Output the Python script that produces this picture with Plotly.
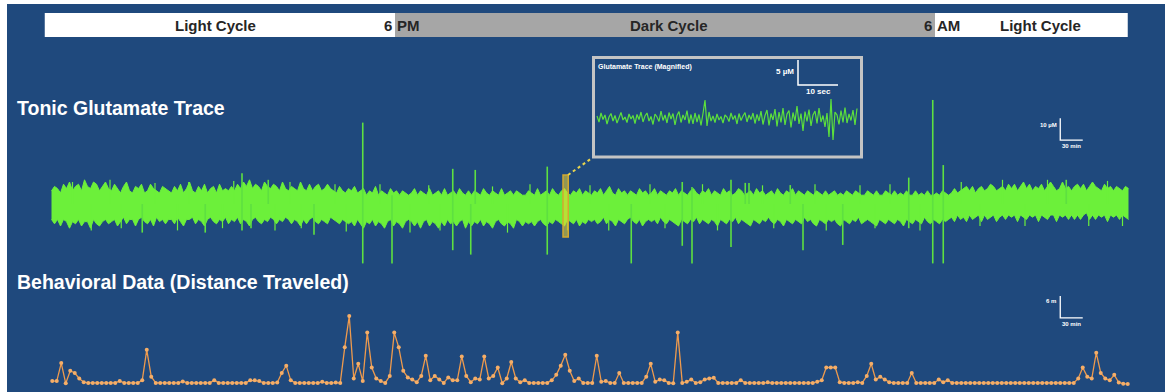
import numpy as np
import pandas as pd
import plotly.graph_objects as go

# ---------------- data ----------------
RECORD_START = "2020-01-01 10:20"
BAR_START = "2020-01-01 10:13"
LIGHTS_OFF = "2020-01-01 18:00"
LIGHTS_ON = "2020-01-02 06:00"
BAR_END = "2020-01-02 10:17"
CYCLE_LABELS = ["Light Cycle", "Dark Cycle", "Light Cycle"]
CYCLE_LABEL_TIMES = ["2020-01-01 14:00", "2020-01-02 00:05", "2020-01-02 08:20"]

# tonic glutamate (µM, relative to baseline): envelope of the trace every 4 min
GLU_STEP_MIN = 4
GLU_UPPER = [
    6, 8, 7, 5, 9, 7, 10, 6, 8, 9, 6, 11, 8, 7, 10, 9, 6, 8, 10, 7,
    6, 9, 7, 5, 8, 10, 6, 5, 8, 7, 9, 5, 6, 9, 7, 6, 5, 8, 7, 6,
    5, 8, 6, 9, 5, 7, 10, 6, 5, 8, 6, 9, 5, 7, 8, 5, 9, 6, 7, 6,
    8, 6, 9, 7, 10, 8, 11, 7, 9, 8, 6, 10, 8, 7, 9, 8, 6, 10, 7, 6,
    8, 7, 6, 10, 7, 6, 9, 6, 8, 9, 6, 7, 9, 7, 6, 5, 8, 6, 5, 7,
    6, 8, 5, 6, 7, 4, 6, 5, 8, 4, 6, 5, 4, 7, 5, 6, 4, 6, 5, 4,
    5, 7, 4, 6, 5, 4, 7, 4, 5, 6, 4, 7, 4, 5, 6, 4, 7, 5, 4, 6,
    4, 6, 5, 4, 7, 5, 4, 6, 5, 4, 7, 4, 5, 6, 4, 6, 5, 4, 4, 6,
    5, 4, 7, 4, 5, 6, 4, 7, 5, 4, 6, 7, 5, 4, 6, 5, 7, 4, 6, 5,
    4, 6, 5, 7, 4, 6, 8, 5, 4, 7, 5, 6, 4, 6, 5, 4, 7, 5, 6, 4,
    5, 7, 4, 6, 5, 4, 6, 5, 7, 4, 6, 5, 4, 6, 7, 5, 4, 6, 5, 7,
    4, 6, 5, 4, 7, 5, 6, 4, 5, 7, 6, 4, 5, 6, 4, 7, 5, 6, 4, 5,
    6, 4, 7, 5, 4, 6, 5, 7, 4, 6, 5, 4, 6, 5, 4, 6, 5, 4, 6, 4,
    5, 6, 4, 5, 4, 6, 5, 4, 6, 5, 4, 4, 6, 5, 4, 6, 4, 4, 6, 5,
    4, 6, 4, 5, 4, 6, 4, 4, 6, 4, 5, 4, 6, 4, 4, 5, 4, 6, 5, 4,
    5, 7, 5, 6, 7, 8, 6, 8, 5, 7, 8, 6, 7, 9, 8, 6, 7, 8, 6, 9,
    7, 9, 6, 8, 10, 7, 9, 6, 8, 7, 9, 6, 8, 10, 8, 6, 7, 10, 7, 8,
    6, 8, 9, 7, 9, 6, 8, 10, 8, 7, 6, 9, 7, 8, 6, 8, 7, 6, 8, 7,
]
GLU_LOWER = [
    -7, -9, -7, -10, -7, -8, -11, -8, -9, -7, -10, -8, -8, -11, -7, -9, -10, -8, -7, -9,
    -8, -7, -10, -8, -6, -9, -7, -7, -10, -7, -6, -8, -9, -7, -10, -6, -8, -7, -9, -7,
    -7, -9, -6, -8, -10, -7, -7, -6, -9, -7, -8, -10, -7, -6, -8, -9, -7, -8, -6, -9,
    -7, -8, -6, -9, -7, -8, -10, -7, -6, -8, -9, -7, -8, -6, -7, -9, -7, -8, -6, -7,
    -9, -7, -8, -10, -7, -9, -7, -6, -8, -9, -7, -8, -9, -6, -7, -8, -9, -7, -8, -9,
    -8, -10, -7, -9, -11, -8, -9, -7, -10, -8, -9, -11, -8, -7, -10, -8, -9, -11, -8, -7,
    -8, -10, -8, -11, -8, -7, -10, -8, -9, -11, -8, -10, -7, -9, -8, -10, -8, -7, -11, -8,
    -10, -8, -9, -7, -10, -8, -9, -11, -8, -7, -9, -10, -8, -9, -11, -7, -8, -10, -8, -9,
    -8, -10, -8, -7, -9, -10, -8, -9, -7, -8, -9, -10, -7, -8, -9, -7, -10, -8, -9, -7,
    -8, -7, -9, -8, -6, -9, -7, -8, -10, -7, -8, -9, -7, -6, -8, -9, -7, -10, -8, -7,
    -8, -7, -9, -6, -8, -9, -7, -8, -9, -10, -7, -8, -9, -7, -8, -6, -9, -7, -8, -9,
    -7, -8, -10, -7, -8, -9, -7, -8, -6, -9, -7, -8, -9, -10, -7, -8, -9, -7, -8, -6,
    -8, -9, -7, -8, -10, -7, -8, -9, -7, -8, -9, -6, -8, -7, -9, -10, -7, -8, -9, -7,
    -8, -7, -9, -10, -7, -8, -9, -7, -8, -6, -9, -8, -7, -8, -9, -10, -7, -8, -9, -7,
    -8, -9, -7, -8, -10, -7, -8, -9, -7, -8, -9, -6, -8, -9, -7, -8, -9, -7, -8, -7,
    -6, -8, -5, -7, -6, -8, -5, -7, -6, -5, -8, -5, -7, -6, -5, -8, -6, -5, -7, -5,
    -6, -5, -8, -5, -6, -7, -5, -6, -5, -8, -5, -6, -7, -5, -5, -8, -5, -6, -5, -7,
    -5, -7, -5, -7, -5, -4, -7, -5, -7, -5, -6, -5, -8, -5, -6, -5, -7, -5, -6, -7,
]
# large transients: minutes after start, peak and trough (µM)
SPIKE_MIN = [123, 207, 256, 268, 291, 352, 417, 456, 537, 561, 567, 663, 775,
             843, 856, 908, 927, 932, 987, 1004, 1057, 1145, 1177, 1191, 1355]
SPIKE_HIGH = [0, 0, 14, 0, 11, 0, 37, 4, 16, 0, 15.5, 17, 0,
              10, 7.7, 11, 9.6, 9.6, 8.6, 0, 0, 12, 47.3, 17.7, 11]
SPIKE_LOW = [-13, -13, -12, -11, 0, -14, -27, -27, -21, -23, 0, -23, -27,
             -19, -27, -19.5, 0, 0, 0, -21, -18.6, -11, -27, -27, 0]
# small excursions sticking out of the noise band
SMALL_MIN = [30, 55, 80, 95, 140, 170, 185, 230, 245, 300, 320, 335, 380, 395, 440,
             480, 505, 520, 590, 610, 640, 690, 720, 745, 800, 820, 870, 890, 950, 965,
             1020, 1035, 1080, 1100, 1120, 1160, 1215, 1240, 1270, 1300, 1330, 1385, 1410, 1430]
SMALL_HIGH = [10, 0, 11, 0, 9.5, 0, 10, 0, 10.5, 0, 10, 0, 9, 0, 9,
              0, 8.5, 0, 8, 0, 9, 0, 8.5, 0, 9, 0, 9, 0, 8.5, 0,
              9, 0, 8.5, 0, 9, 0, 10, 0, 11, 0, 11, 0, 10.5, 0]
SMALL_LOW = [0, -12, 0, -11, 0, -12, 0, -11, 0, -12, 0, -11, 0, -12.5, 0,
             -13, 0, -12, 0, -13, 0, -12, 0, -12, 0, -11, 0, -12, 0, -11,
             0, -12, 0, -11, 0, -12, 0, -10, 0, -10, 0, -10, 0, -10]

ZOOM_START = "2020-01-01 21:44"
ZOOM_END = "2020-01-01 21:51"
ZOOM_HIGH, ZOOM_LOW = 13.2, -15

# magnified glutamate trace (µM), every 0.5 s
INSET_STEP_S = 0.5
INSET_GLU = [
    0.4, -0.8, 1.0, -0.3, 0.6, -1.2, 0.2, 0.9, -0.6, 0.5, -1.0, 0.3, 1.1, -0.4, 0.2, -0.9, 0.8, -0.2, 0.5, -1.1,
    0.7, -0.3, 1.2, -0.8, 0.4, 1.0, -0.6, 0.3, -1.3, 0.8, 0.2, -0.7, 1.4, -0.5, 0.6, -1.0, 1.1, -0.2, 0.9, -1.4,
    0.5, 1.3, -0.9, 0.6, -0.4, 1.5, -1.1, 0.7, -1.2, 1.0, -0.8, 0.7, -1.5, 0.9, 3.6, -1.6, 1.2, -0.6, 0.4, -0.9,
    0.8, -0.4, 0.3, -1.0, 0.6, 0.2, -0.7, 1.0, -0.3, 0.5, -1.2, 0.9, -0.5, 0.4, 1.1, -0.8, 0.6, -0.3, 1.0, -1.1,
    0.7, -0.6, 1.4, -1.3, 0.5, 1.6, -1.5, 0.9, -0.4, 1.8, -1.7, 1.2, -0.9, 2.0, -1.4, 0.8, 1.5, -1.9, 1.1, -0.6,
    2.4, -1.2, 0.9, -2.6, 1.3, -0.7, 1.7, -1.6, 0.6, 1.4, -1.1, 2.0, -0.8, 0.5, -1.8, 1.0, -3.8, 3.8, -4.4, 1.2,
    0.6, -1.3, 1.5, -0.9, 2.1, -1.0, 0.8, -0.5, 1.6, -1.4, 1.9,
]

# behavioural data: distance travelled (m) per 6-min bin
BEH_STEP_MIN = 6
BEH_DIST = [
    0.8, 0.8, 5.7, 0.2, 3.6, 3.0, 1.5, 0.5, 0.3, 0.3, 0.3, 0.3, 0.3, 0.3, 0.3, 0.8, 0.3, 0.3, 0.3, 0.3,
    1.0, 9.3, 2.0, 0.3, 0.3, 0.3, 0.3, 0.3, 0.3, 0.7, 0.3, 0.3, 0.3, 0.3, 0.3, 0.3, 1.0, 0.3, 0.3, 0.3,
    0.3, 0.3, 0.3, 0.3, 1.0, 1.0, 0.8, 0.3, 0.3, 0.3, 0.4, 3.0, 5.0, 1.0, 0.3, 0.3, 0.3, 0.3, 0.3, 0.3,
    0.6, 0.3, 0.3, 0.4, 0.3, 10.0, 18.5, 1.5, 5.5, 0.8, 14.0, 4.5, 1.5, 0.8, 0.3, 2.2, 14.0, 10.0, 3.6, 1.8,
    1.2, 0.5, 2.2, 7.7, 1.0, 2.2, 1.2, 0.3, 1.8, 1.0, 1.0, 7.5, 2.2, 0.5, 1.5, 1.2, 7.5, 1.5, 2.2, 4.5,
    0.2, 1.5, 6.0, 1.5, 0.5, 1.0, 0.3, 0.3, 0.3, 0.3, 0.3, 1.0, 2.5, 5.0, 8.0, 3.6, 0.8, 1.5, 0.3, 0.3,
    0.3, 7.7, 0.6, 0.8, 0.3, 0.3, 3.0, 0.3, 0.3, 0.3, 0.3, 0.3, 2.0, 5.5, 0.6, 1.2, 1.0, 0.3, 0.2, 14.0,
    0.3, 0.6, 1.2, 0.3, 0.5, 1.2, 1.5, 1.7, 0.3, 0.3, 0.3, 0.3, 0.3, 1.0, 0.3, 0.3, 0.3, 0.3, 0.3, 0.5,
    0.3, 0.3, 0.3, 0.3, 0.3, 0.3, 0.3, 0.3, 0.3, 0.3, 0.6, 1.0, 4.5, 4.5, 4.5, 0.5, 0.3, 0.3, 0.3, 0.5,
    0.3, 2.2, 5.5, 1.2, 2.0, 1.2, 0.5, 0.3, 0.3, 0.3, 0.3, 3.0, 0.3, 0.3, 0.3, 0.3, 0.3, 1.2, 0.5, 1.0,
    0.3, 0.3, 0.3, 0.3, 0.3, 0.3, 0.3, 0.3, 0.3, 0.3, 0.3, 0.3, 0.3, 0.3, 0.3, 0.3, 0.3, 0.3, 0.3, 0.3,
    0.3, 0.3, 0.3, 0.3, 0.3, 0.3, 0.3, 0.3, 1.5, 4.5, 2.0, 1.5, 8.5, 3.0, 1.5, 1.0, 2.5, 0.4, 0.1, 0.0,
]

# scale bars
SCALE_T0 = "2020-01-02 08:47"
SCALE_TIME_MIN = 30
SCALE_GLU_UM, SCALE_GLU_BASE = 10, 29
SCALE_BEH_M, SCALE_BEH_BASE = 6, 18
SCALE_INSET_S, SCALE_INSET_T0 = 10, 50.25
SCALE_INSET_UM, SCALE_INSET_BASE = 5, 6.6

# ---------------- styling ----------------
W, H = 1165, 392
BLUE = "#1F497D"
GREEN = "#6CF03A"
SPIKE_GREEN = "#5EE040"
ORANGE = "#EE9A4D"
FONT = "Liberation Sans, Arial, sans-serif"


def px(xp):
    return xp / W


def py(yp):
    return 1 - yp / H


start = pd.Timestamp(RECORD_START)
glu_t = start + pd.to_timedelta((np.arange(len(GLU_UPPER)) + 0.5) * GLU_STEP_MIN, unit="min")
beh_t = start + pd.to_timedelta((np.arange(len(BEH_DIST)) + 0.5) * BEH_STEP_MIN, unit="min")
inset_t = np.arange(len(INSET_GLU)) * INSET_STEP_S


def spike_segments(minutes, highs, lows):
    xs, ys = [], []
    for m, hi, lo in zip(minutes, highs, lows):
        t = start + pd.Timedelta(minutes=m)
        xs += [t, t, None]
        ys += [hi, lo, None]
    return xs, ys


spk_x, spk_y = spike_segments(SPIKE_MIN, SPIKE_HIGH, SPIKE_LOW)
sml_x, sml_y = spike_segments(SMALL_MIN, SMALL_HIGH, SMALL_LOW)

fig = go.Figure()

# glutamate band
fig.add_trace(go.Scatter(x=glu_t, y=GLU_LOWER, mode="lines",
                         line=dict(color=GREEN, width=1), hoverinfo="skip"))
fig.add_trace(go.Scatter(x=glu_t, y=GLU_UPPER, mode="lines", fill="tonexty",
                         fillcolor=GREEN, line=dict(color=GREEN, width=1), hoverinfo="skip"))
fig.add_trace(go.Scatter(x=sml_x, y=sml_y, mode="lines",
                         line=dict(color=GREEN, width=1.2), hoverinfo="skip"))
fig.add_trace(go.Scatter(x=spk_x, y=spk_y, mode="lines",
                         line=dict(color=SPIKE_GREEN, width=1.6), hoverinfo="skip"))

# behaviour
fig.add_trace(go.Scatter(x=beh_t, y=BEH_DIST, mode="lines+markers", yaxis="y3",
                         line=dict(color=ORANGE, width=1.3),
                         marker=dict(color="#F5AE68", size=4), hoverinfo="skip"))

# inset trace
fig.add_trace(go.Scatter(x=inset_t, y=INSET_GLU, mode="lines", xaxis="x2", yaxis="y2",
                         line=dict(color="#5CE03C", width=1.2), hoverinfo="skip"))

# scale bars
t0 = pd.Timestamp(SCALE_T0)
t1 = t0 + pd.Timedelta(minutes=SCALE_TIME_MIN)
fig.add_trace(go.Scatter(x=[t0, t0, t1], y=[SCALE_GLU_BASE + SCALE_GLU_UM, SCALE_GLU_BASE, SCALE_GLU_BASE],
                         mode="lines", line=dict(color="white", width=1.3), hoverinfo="skip"))
fig.add_trace(go.Scatter(x=[t0, t0, t1], y=[SCALE_BEH_BASE + SCALE_BEH_M, SCALE_BEH_BASE, SCALE_BEH_BASE],
                         mode="lines", yaxis="y3", line=dict(color="white", width=1.3), hoverinfo="skip"))
fig.add_trace(go.Scatter(x=[SCALE_INSET_T0, SCALE_INSET_T0, SCALE_INSET_T0 + SCALE_INSET_S],
                         y=[SCALE_INSET_BASE + SCALE_INSET_UM, SCALE_INSET_BASE, SCALE_INSET_BASE],
                         mode="lines", xaxis="x2", yaxis="y2",
                         line=dict(color="white", width=1.5), hoverinfo="skip"))

shapes = [
    dict(type="rect", xref="paper", yref="paper", x0=0, x1=px(7), y0=0, y1=1,
         fillcolor="white", line_width=0, layer="below"),
    dict(type="rect", xref="paper", yref="paper", x0=0, x1=1, y0=py(4), y1=1,
         fillcolor="white", line_width=0, layer="below"),
    # light / dark bar
    dict(type="rect", xref="x", yref="paper", x0=BAR_START, x1=LIGHTS_OFF, y0=py(37), y1=py(13),
         fillcolor="white", line_width=0, layer="below"),
    dict(type="rect", xref="x", yref="paper", x0=LIGHTS_OFF, x1=LIGHTS_ON, y0=py(37), y1=py(13),
         fillcolor="#A6A6A6", line_width=0, layer="below"),
    dict(type="rect", xref="x", yref="paper", x0=LIGHTS_ON, x1=BAR_END, y0=py(37), y1=py(13),
         fillcolor="white", line_width=0, layer="below"),
    # inset frame
    dict(type="rect", xref="paper", yref="paper", x0=px(593.5), x1=px(861.5), y0=py(157), y1=py(57.5),
         fillcolor=BLUE, line=dict(color="#C4C4C4", width=3), layer="below"),
    # zoom window marker
    dict(type="rect", xref="x", yref="y", x0=ZOOM_START, x1=ZOOM_END, y0=ZOOM_LOW, y1=ZOOM_HIGH,
         fillcolor="rgba(240,215,50,0.55)", line=dict(color="#D2A830", width=1.5), layer="above"),
    dict(type="line", xref="paper", yref="paper", x0=px(568), y0=py(175), x1=px(592), y1=py(158),
         line=dict(color="#E8D44D", width=2, dash="dot"), layer="above"),
]

ann = []
bar_y = py(25)
bar_font = dict(family=FONT, size=15, color="#262626", weight="bold")
for lbl, t in zip(CYCLE_LABELS, CYCLE_LABEL_TIMES):
    ann.append(dict(x=t, y=bar_y, xref="x", yref="paper", text=lbl, showarrow=False,
                    xanchor="center", yanchor="middle", font=bar_font))
for t, ampm in [(LIGHTS_OFF, "PM"), (LIGHTS_ON, "AM")]:
    ann.append(dict(x=t, y=bar_y, xref="x", yref="paper", text="6", showarrow=False,
                    xanchor="right", yanchor="middle", xshift=-1, font=bar_font))
    ann.append(dict(x=t, y=bar_y, xref="x", yref="paper", text=ampm, showarrow=False,
                    xanchor="left", yanchor="middle", xshift=0, font=bar_font))

title_font = dict(family=FONT, size=19.5, color="white", weight="bold")
ann.append(dict(x=px(15), y=py(108), xref="paper", yref="paper", text="Tonic Glutamate Trace",
                showarrow=False, xanchor="left", yanchor="middle", font=title_font))
ann.append(dict(x=px(15), y=py(282), xref="paper", yref="paper", text="Behavioral Data (Distance Traveled)",
                showarrow=False, xanchor="left", yanchor="middle", font=title_font))
ann.append(dict(x=px(596), y=py(67), xref="paper", yref="paper", text="Glutamate Trace (Magnified)",
                showarrow=False, xanchor="left", yanchor="middle",
                font=dict(family=FONT, size=7, color="white", weight="bold")))

small = dict(family=FONT, size=6, color="white", weight="bold")
ann.append(dict(x=t0, y=SCALE_GLU_BASE + SCALE_GLU_UM / 2 + 2, xref="x", yref="y",
                text=f"{SCALE_GLU_UM} µM", showarrow=False, xanchor="right", yanchor="middle",
                xshift=-1, font=small))
ann.append(dict(x=t0 + pd.Timedelta(minutes=SCALE_TIME_MIN / 2), y=SCALE_GLU_BASE, xref="x", yref="y",
                text=f"{SCALE_TIME_MIN} min", showarrow=False, xanchor="center", yanchor="top",
                yshift=-1, font=small))
ann.append(dict(x=t0, y=SCALE_BEH_BASE + SCALE_BEH_M / 2 + 1.5, xref="x", yref="y3",
                text=f"{SCALE_BEH_M} m", showarrow=False, xanchor="right", yanchor="middle",
                xshift=-2, font=small))
ann.append(dict(x=t0 + pd.Timedelta(minutes=SCALE_TIME_MIN / 2), y=SCALE_BEH_BASE, xref="x", yref="y3",
                text=f"{SCALE_TIME_MIN} min", showarrow=False, xanchor="center", yanchor="top",
                yshift=-1, font=small))
ann.append(dict(x=SCALE_INSET_T0, y=SCALE_INSET_BASE + SCALE_INSET_UM * 0.55, xref="x2", yref="y2",
                text=f"{SCALE_INSET_UM} µM", showarrow=False, xanchor="right", yanchor="middle",
                xshift=-2, font=dict(family=FONT, size=8, color="white", weight="bold")))
ann.append(dict(x=SCALE_INSET_T0 + SCALE_INSET_S / 2, y=SCALE_INSET_BASE, xref="x2", yref="y2",
                text=f"{SCALE_INSET_S} sec", showarrow=False, xanchor="center", yanchor="top",
                yshift=0, font=dict(family=FONT, size=8, color="white", weight="bold")))

fig.update_layout(
    width=W, height=H, autosize=False,
    margin=dict(l=0, r=0, t=0, b=0, pad=0),
    paper_bgcolor=BLUE, plot_bgcolor="rgba(0,0,0,0)",
    showlegend=False,
    xaxis=dict(type="date", range=["2020-01-01 09:13:20", "2020-01-02 11:06:40"],
               domain=[0, 1], visible=False, fixedrange=True),
    yaxis=dict(range=[-85.45, 92.73], domain=[0, 1], visible=False, fixedrange=True),
    yaxis3=dict(range=[-2.18, 104.63], overlaying="y", visible=False, fixedrange=True),
    xaxis2=dict(range=[-149.25, 142.0], overlaying="x", anchor="y2", visible=False, fixedrange=True),
    yaxis2=dict(range=[-54.8, 23.6], overlaying="y", anchor="x2", visible=False, fixedrange=True),
    shapes=shapes,
    annotations=ann,
)

fig.write_html("out.html")
